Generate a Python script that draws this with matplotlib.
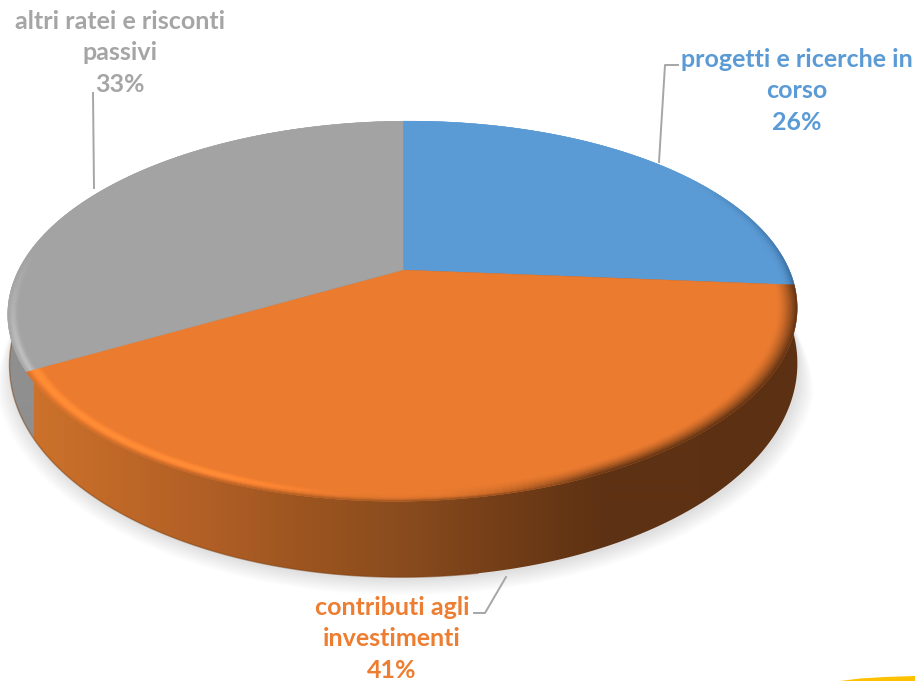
import numpy as np
import matplotlib
matplotlib.use("Agg")
import matplotlib.pyplot as plt
from matplotlib.collections import PolyCollection
from matplotlib.colors import to_rgb
from matplotlib.patches import Polygon

labels = ["progetti e ricerche in\ncorso", "contributi agli\ninvestimenti", "altri ratei e risconti\npassivi"]
values = [26, 41, 33]
colors = ["#5B9BD5", "#EA7B2F", "#A3A3A3"]
text_colors = ["#5B9BD5", "#ED7D31", "#A5A5A5"]
label_pos = [(797, 91), (392, 639), (120, 53)]
leaders = [[(659, 162), (665, 65), (678, 65)],
           [(506, 577), (485, 613), (474, 613)],
           [(94, 188), (93, 93)]]

# projection of the tilted disc
apex = np.array([403.0, 270.0])
foot_center = np.array([403.0, 330.0])
top_outline = [(403, 122), (530, 134), (660, 160), (750, 220), (777, 247), (795, 280), (800, 313),
               (797, 333), (783, 352), (765, 380), (723, 417), (673, 443), (607, 475), (533, 490),
               (467, 498), (400, 502), (320, 495), (253, 487), (187, 475), (120, 452), (87, 435),
               (53, 410), (31, 372), (12, 343), (7, 313), (10, 293), (27, 250), (50, 223),
               (94, 188), (167, 163), (233, 142), (300, 128)]
# the lower left corner and the far left matter most to the eye
top_outline += [(31, 372)] * 8 + [(7, 313)] * 4 + [(403, 122)] * 3
foot_outline = [(10, 337), (14, 380), (20, 410), (38, 445), (53, 463), (87, 493), (120, 513), (153, 530),
                (187, 543), (220, 553), (253, 562), (320, 572), (400, 577), (470, 573), (540, 563),
                (607, 548), (673, 520), (723, 487), (757, 457), (773, 437), (788, 413), (795, 380)]
wall_x = [30, 100, 200, 320, 400, 500, 600, 800]
wall_c = ["#CC722C", "#C26A28", "#B26026", "#99531F", "#8A4C1E", "#743E18", "#5E3213", "#5C3013"]

# wedge boundaries, clockwise from 12 o'clock
edges = np.cumsum([0] + values) / sum(values) * 2 * np.pi


def fit_h(src, dst):
    A, b = [], []
    for (x, y), (u, v) in zip(src, dst):
        A.append([x, y, 1, 0, 0, 0, -u * x, -u * y]); b.append(u)
        A.append([0, 0, 0, x, y, 1, -v * x, -v * y]); b.append(v)
    return np.append(np.linalg.solve(np.array(A), np.array(b)), 1).reshape(3, 3)


src = [(0, 0), (0, 1), (np.sin(edges[1]), np.cos(edges[1])), (np.sin(edges[2]), np.cos(edges[2]))]
H = fit_h(src, [apex, (403, 122), (797, 285), (32, 370)])


def fit_conic(points, center):
    p = np.array(points, dtype=float) - center
    A = np.c_[p[:, 0] ** 2, p[:, 0] * p[:, 1], p[:, 1] ** 2, p[:, 0], p[:, 1]]
    return np.linalg.lstsq(A, np.ones(len(p)), rcond=None)[0]


def ray_radius(q, phi):
    c, s = np.cos(phi), np.sin(phi)
    a = q[0] * c * c + q[1] * c * s + q[2] * s * s
    b = q[3] * c + q[4] * s
    return (-b + np.sqrt(b * b + 4 * a)) / (2 * a)


top_conic = fit_conic(top_outline, apex)
foot_conic = fit_conic(foot_outline, foot_center)


def project(r, t):
    t = np.asarray(t, dtype=float)
    x, y = np.sin(t), np.cos(t)
    w = H[2, 0] * x + H[2, 1] * y + 1
    px = (H[0, 0] * x + H[0, 1] * y + H[0, 2]) / w - apex[0]
    py = (H[1, 0] * x + H[1, 1] * y + H[1, 2]) / w - apex[1]
    phi = np.arctan2(py, px)
    rad = r * ray_radius(top_conic, phi)
    return np.c_[apex[0] + rad * np.cos(phi), apex[1] + rad * np.sin(phi)]


wall_rgb = np.array([to_rgb(c) for c in wall_c])


def wall_color(x):
    return np.array([np.interp(x, wall_x, wall_rgb[:, k]) for k in range(3)]).T


fig = plt.figure(figsize=(9.15, 6.81), dpi=100)
ax = fig.add_axes([0, 0, 1, 1])
ax.set_xlim(0, 915)
ax.set_ylim(681, 0)
ax.axis("off")

# foot of the wall, front half only
phi = np.linspace(np.radians(-12), np.radians(192), 400)
rad = ray_radius(foot_conic, phi)
fx = foot_center[0] + rad * np.cos(phi)
fy = foot_center[1] + rad * np.sin(phi)

# soft shadow under the pie
grow = np.clip((fy - 320) / 70, 0, 1)
for g in np.linspace(1.0, 0, 16):
    sx = 403 + (fx - 403) * (1 + 0.045 * g * grow) + 2 * grow
    sy = 330 + (fy - 330) * (1 + 0.065 * g * grow) + 2 * grow
    ax.fill(sx, sy, color="#808080", alpha=0.016, lw=0, zorder=1)

# outer wall, shaded left to right
xs = np.arange(0, 915)
strip = wall_color(xs)[None, :, :]
strip[0, xs < 34] = to_rgb("#8F8F8F")
im = ax.imshow(strip, extent=(0, 915, 681, 0), aspect="auto", interpolation="bilinear", zorder=2)
im.set_clip_path(Polygon(np.c_[fx, fy], closed=True, transform=ax.transData))
front = fx < 480
ax.plot(fx[front], fy[front], color="#7A3F12", lw=1.0, alpha=0.5, zorder=2)

# top faces
for i in range(3):
    tw = np.linspace(edges[i], edges[i + 1], 300)
    pts = np.vstack([apex, project(1, tw)])
    ax.fill(pts[:, 0], pts[:, 1], color=colors[i], lw=0.3, zorder=3)

# rounded rim of the top face
radii = np.linspace(0.95, 1.0, 13)
polys, cols = [], []
for i in range(3):
    c = np.array(to_rgb(colors[i]))
    tw = np.linspace(edges[i], edges[i + 1], 260)
    for j in range(len(radii) - 1):
        u = ((radii[j] + radii[j + 1]) / 2 - radii[0]) / (radii[-1] - radii[0])
        a, b = project(radii[j], tw), project(radii[j + 1], tw)
        for k in range(len(tw) - 1):
            x, y = a[k]
            s = (y - apex[1]) / np.hypot(x - apex[0], y - apex[1])
            if i == 2:
                # the grey slice only catches light low on the far left
                v = np.clip((s + 0.05) / 0.25, 0, 1)
                ridge = np.exp(-((u - 0.75) / 0.18) ** 2)
            else:
                v = np.clip((s + 0.3) / 0.4, 0, 1)
                ridge = np.exp(-((u - 0.55) / 0.25) ** 2)
            lit = np.clip((360 - x) / 150, 0, 1) * v
            col = c * (1 + 0.18 * lit * ridge)
            if i == 1:
                dark = np.clip((x - 430) / 170, 0, 1)
                mix = max(dark * u ** 1.5, 0.9 * u ** 6)
                col = col + (wall_color(x) - col) * mix
            elif i == 0:
                col = col + (np.array(to_rgb("#2F5F8F")) - col) * v * u ** 4
            polys.append([a[k], a[k + 1], b[k + 1], b[k]])
            cols.append(np.clip(col, 0, 1))
ax.add_collection(PolyCollection(polys, facecolors=cols, edgecolors=cols, linewidths=0.3, zorder=4))

# leader lines
for pts in leaders:
    ax.plot([p[0] for p in pts], [p[1] for p in pts], color="#A6A6A6", lw=1.4, zorder=5)

# data labels
for name, val, pos, col in zip(labels, values, label_pos, text_colors):
    ax.text(pos[0], pos[1], f"{name}\n{val}%", color=col, ha="center", va="center",
            family="Lato", fontweight="bold", fontsize=18, linespacing=1.44, zorder=6)

# corner of the slide decoration
swoosh_x = [840, 860, 885, 915, 915, 840]
swoosh_y = [681, 678.5, 677, 676, 681, 681]
ax.fill(swoosh_x, swoosh_y, color="#FFC000", lw=0, zorder=6)

fig.savefig("out.png", dpi=100, facecolor="white")
